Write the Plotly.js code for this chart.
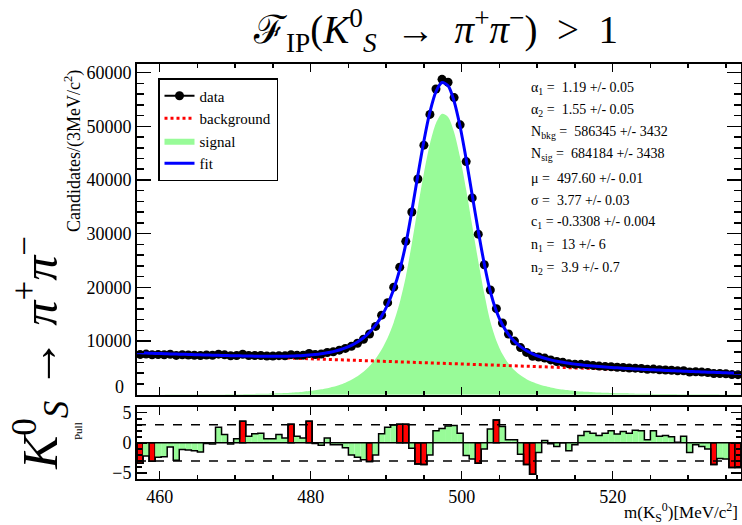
<!DOCTYPE html>
<html>
<head>
<meta charset="utf-8">
<script src="https://cdn.plot.ly/plotly-3.0.1.min.js"></script>
<style>html,body{margin:0;padding:0;background:#fff;}#plot{width:742px;height:525px;}</style>
</head>
<body>
<div id="plot"></div>
<script>
// bin centres (0.8 MeV bins from 457 to 537)
const mass = [457.4, 458.2, 459.0, 459.8, 460.6, 461.4, 462.2, 463.0, 463.8, 464.6,
  465.4, 466.2, 467.0, 467.8, 468.6, 469.4, 470.2, 471.0, 471.8, 472.6,
  473.4, 474.2, 475.0, 475.8, 476.6, 477.4, 478.2, 479.0, 479.8, 480.6,
  481.4, 482.2, 483.0, 483.8, 484.6, 485.4, 486.2, 487.0, 487.8, 488.6,
  489.4, 490.2, 491.0, 491.8, 492.6, 493.4, 494.2, 495.0, 495.8, 496.6,
  497.4, 498.2, 499.0, 499.8, 500.6, 501.4, 502.2, 503.0, 503.8, 504.6,
  505.4, 506.2, 507.0, 507.8, 508.6, 509.4, 510.2, 511.0, 511.8, 512.6,
  513.4, 514.2, 515.0, 515.8, 516.6, 517.4, 518.2, 519.0, 519.8, 520.6,
  521.4, 522.2, 523.0, 523.8, 524.6, 525.4, 526.2, 527.0, 527.8, 528.6,
  529.4, 530.2, 531.0, 531.8, 532.6, 533.4, 534.2, 535.0, 535.8, 536.6];

const dataCounts = [7491, 7559, 7448, 7469, 7440, 7543, 7316, 7438, 7393, 7350,
  7298, 7385, 7344, 7553, 7420, 7254, 7306, 7528, 7292, 7308,
  7302, 7216, 7213, 7277, 7240, 7462, 7333, 7363, 7681, 7468,
  7581, 7867, 7999, 8296, 8629, 9003, 9576, 10326, 11301, 12718,
  14817, 17139, 20037, 23751, 28566, 34037, 40173, 46477, 52210, 56934,
  58739, 58207, 55345, 50270, 43419, 36652, 29902, 24198, 19504, 16032,
  13348, 11300, 9982, 8769, 7874, 7165, 7024, 6822, 6475, 6190,
  6028, 5752, 5672, 5651, 5583, 5454, 5329, 5269, 5216, 5103,
  5063, 4976, 4948, 4881, 4721, 4769, 4655, 4611, 4547, 4439,
  4457, 4233, 4272, 4207, 4138, 3927, 3949, 3901, 3770, 3729];

const fitCounts = [7791, 7753, 7716, 7679, 7641, 7604, 7568, 7533, 7497, 7462,
  7427, 7394, 7361, 7330, 7300, 7271, 7246, 7222, 7199, 7181,
  7166, 7157, 7154, 7159, 7172, 7199, 7239, 7295, 7372, 7477,
  7616, 7796, 8026, 8323, 8704, 9195, 9814, 10614, 11636, 12946,
  14635, 16802, 19624, 23278, 28047, 34203, 40881, 47260, 52669, 56459,
  58160, 57535, 54667, 49913, 43859, 37173, 30496, 24354, 19185, 15558,
  13040, 11247, 9932, 8949, 8200, 7619, 7159, 6789, 6487, 6237,
  6028, 5851, 5695, 5561, 5443, 5337, 5242, 5154, 5074, 5000,
  4930, 4864, 4802, 4743, 4687, 4633, 4581, 4530, 4480, 4432,
  4384, 4338, 4292, 4246, 4203, 4159, 4116, 4073, 4030, 3988];

const signalCounts = [8, 9, 10, 12, 13, 15, 18, 21, 24, 28,
  32, 37, 43, 51, 60, 70, 83, 98, 114, 135,
  159, 188, 224, 268, 320, 386, 464, 559, 675, 819,
  996, 1215, 1484, 1820, 2240, 2769, 3427, 4266, 5327, 6676,
  8403, 10609, 13470, 17163, 21971, 28165, 34882, 41300, 46748, 50577,
  52316, 51730, 48901, 44186, 38171, 31523, 24885, 18782, 13652, 10064,
  7584, 5830, 4554, 3610, 2900, 2357, 1936, 1605, 1342, 1131,
  960, 822, 705, 610, 530, 463, 407, 358, 317, 281,
  250, 223, 200, 180, 162, 147, 134, 122, 111, 101,
  92, 85, 78, 71, 66, 61, 57, 53, 49, 45];

// curve end points at the range edges
const edgeMass = [457, 537];
const fitEdge = [7807, 3970];
const signalEdge = [7, 44];

// linear background
const bkgMass = [457, 537];
const bkgCounts = [7802, 3924];

const pulls = [-3.4, -2.2, -3.05, -2.4, -2.3, -0.7, -2.9, -1.1, -1.2, -1.3,
  -1.5, -0.1, -0.2, 2.6, 1.4, -0.2, 0.7, 3.6, 1.1, 1.5,
  1.6, 0.7, 0.7, 1.4, 0.8, 3.1, 1.1, 0.8, 3.6, -0.1,
  -0.4, 0.8, -0.3, -0.3, -0.8, -2.0, -2.4, -2.8, -3.1, -2.0,
  1.5, 2.6, 2.95, 3.1, 3.1, -0.9, -3.5, -3.6, -2.0, 2.0,
  2.4, 2.8, 2.9, 1.6, -2.1, -2.7, -3.4, -1.0, 2.3, 3.8,
  2.7, 0.5, 0.5, -1.9, -3.6, -5.2, -1.6, 0.4, -0.15, -0.6,
  0.0, -1.3, -0.3, 1.2, 1.9, 1.6, 1.2, 1.6, 2.0, 1.45,
  1.9, 1.6, 2.1, 2.0, 0.5, 2.0, 1.1, 1.2, 1.0, 0.1,
  1.1, -1.6, -0.3, -0.6, -1.0, -3.6, -2.6, -2.7, -4.1, -4.1];

const paramLabels = [
  'α<sub>1</sub> =  1.19 +/- 0.05',
  'α<sub>2</sub> =  1.55 +/- 0.05',
  'N<sub>bkg</sub> =  586345 +/- 3432',
  'N<sub>sig</sub> =  684184 +/- 3438',
  'μ =  497.60 +/- 0.01',
  'σ =  3.77 +/- 0.03',
  'c<sub>1</sub> = -0.3308 +/- 0.004',
  'n<sub>1</sub> =  13 +/- 6',
  'n<sub>2</sub> =  3.9 +/- 0.7'];

const xTicks = [460, 480, 500, 520];
const yTicks = [0, 10000, 20000, 30000, 40000, 50000, 60000];
const yTickText = ['', '10000', '20000', '30000', '40000', '50000', '60000'];

// ---------- build ----------
const W = 742, H = 525;
const M = {l: 137, r: 1, t: 64, b: 46};
const PW = W - M.l - M.r, PH = H - M.t - M.b;
const PX = x => (x - M.l) / PW;
const PY = y => (H - M.b - y) / PH;

const GREEN = '#98fb98';
const SERIF = 'Liberation Serif, Times New Roman, serif';
const BW = 0.8;

const curveX = [edgeMass[0]].concat(mass, [edgeMass[1]]);
const fitY = [fitEdge[0]].concat(fitCounts, [fitEdge[1]]);
const sigY = [signalEdge[0]].concat(signalCounts, [signalEdge[1]]);

const stepX = [mass[0] - BW / 2].concat(mass.map(m => m - BW / 2), [mass[mass.length - 1] + BW / 2, mass[mass.length - 1] + BW / 2]);
const stepY = [0].concat(pulls, [pulls[pulls.length - 1], 0]);

const isBad = p => Math.abs(p) > 3;

const traces = [
  {x: curveX, y: sigY, type: 'scatter', mode: 'lines', name: 'signal',
   line: {width: 0, color: GREEN, shape: 'spline', smoothing: 0.8}, fill: 'tozeroy', fillcolor: GREEN,
   xaxis: 'x', yaxis: 'y', legendrank: 3},
  {x: bkgMass, y: bkgCounts, type: 'scatter', mode: 'lines', name: 'background',
   line: {color: '#ff0000', width: 3, dash: 'dot'}, xaxis: 'x', yaxis: 'y', legendrank: 2},
  {x: mass, y: dataCounts, type: 'scatter', mode: 'markers', name: 'data', showlegend: false,
   marker: {color: 'black', size: 9}, xaxis: 'x', yaxis: 'y'},
  // legend entry for data (line + marker, as in the reference legend)
  {x: [null], y: [null], type: 'scatter', mode: 'lines+markers', name: 'data',
   line: {color: 'black', width: 2}, marker: {color: 'black', size: 9}, xaxis: 'x', yaxis: 'y', legendrank: 1},
  {x: curveX, y: fitY, type: 'scatter', mode: 'lines', name: 'fit',
   line: {color: '#0000ff', width: 3, shape: 'spline', smoothing: 0.8}, xaxis: 'x', yaxis: 'y', legendrank: 4},
  {x: mass, y: pulls, type: 'bar', width: BW, showlegend: false,
   marker: {color: pulls.map(p => isBad(p) ? '#ff0000' : GREEN),
            line: {color: 'black', width: pulls.map(p => isBad(p) ? 1.5 : 0)}},
   xaxis: 'x2', yaxis: 'y2'},
  {x: stepX, y: stepY, type: 'scatter', mode: 'lines', showlegend: false,
   line: {color: 'black', width: 1.5, shape: 'hv'}, xaxis: 'x2', yaxis: 'y2'}
];

const axBase = {showline: true, linecolor: 'black', linewidth: 2, mirror: 'allticks',
  ticks: 'inside', tickcolor: 'black', tickwidth: 1.5, showgrid: false, zeroline: false,
  tickfont: {family: SERIF, size: 18, color: 'black'}};

const mainBottom = PY(394.7), pullTop = PY(406.7);

const annotations = [];
annotations.push({xref: 'paper', yref: 'paper', x: PX(435), y: PY(31), xanchor: 'center', yanchor: 'middle', showarrow: false,
  text: 'ℱ<sub>IP</sub>(<i>K</i><sup>0</sup><sub><i>S</i></sub> &nbsp;→&nbsp; <i>π</i><sup>+</sup><i>π</i><sup>−</sup>) &nbsp;&gt;&nbsp; 1',
  font: {family: SERIF, size: 39, color: 'black'}});
annotations.push({xref: 'paper', yref: 'paper', x: PX(40), y: PY(353), xanchor: 'center', yanchor: 'middle', showarrow: false,
  textangle: -90,
  text: '<i>K</i><sup>0</sup><sub><i>S</i></sub> → <i>π</i><sup>+</sup><i>π</i><sup>−</sup>',
  font: {family: SERIF, size: 50, color: 'black'}});
annotations.push({xref: 'paper', yref: 'paper', x: PX(73), y: PY(151), xanchor: 'center', yanchor: 'middle', showarrow: false,
  textangle: -90, text: 'Candidates/(3MeV/c<sup>2</sup>)', font: {family: SERIF, size: 18, color: 'black'}});
annotations.push({xref: 'paper', yref: 'paper', x: PX(126), y: PY(387), xanchor: 'right', yanchor: 'middle', showarrow: false,
  text: '0', font: {family: SERIF, size: 18, color: 'black'}});
annotations.push({xref: 'paper', yref: 'paper', x: PX(78), y: PY(431), xanchor: 'center', yanchor: 'middle', showarrow: false,
  textangle: -90, text: 'Pull', font: {family: SERIF, size: 11, color: 'black'}});
annotations.push({xref: 'paper', yref: 'paper', x: PX(740), y: PY(512), xanchor: 'right', yanchor: 'middle', showarrow: false,
  text: 'm(K<sub>S</sub><sup>0</sup>)[MeV/c<sup>2</sup>]', font: {family: SERIF, size: 17, color: 'black'}});
const paramY = [88, 110, 132, 154, 178, 200, 222, 245, 268];
paramLabels.forEach((t, i) => annotations.push({xref: 'paper', yref: 'paper', x: PX(529), y: PY(paramY[i]),
  xanchor: 'left', yanchor: 'middle', showarrow: false, text: t, font: {family: SERIF, size: 14, color: 'black'}}));

const layout = {
  width: W, height: H, margin: M, paper_bgcolor: 'white', plot_bgcolor: 'white',
  showlegend: true, barmode: 'overlay', bargap: 0,
  legend: {x: PX(158), y: PY(78), xanchor: 'left', yanchor: 'top', bgcolor: 'white',
    bordercolor: 'black', borderwidth: 1.5, font: {family: SERIF, size: 15, color: 'black'},
    traceorder: 'normal', itemwidth: 30},
  xaxis: Object.assign({}, axBase, {domain: [0, 1], anchor: 'y', range: [457, 537], showticklabels: false,
    tick0: 460, dtick: 20, ticklen: 8, minor: {dtick: 5, tick0: 460, ticklen: 4, ticks: 'inside', tickcolor: 'black', tickwidth: 1.5}}),
  yaxis: Object.assign({}, axBase, {domain: [mainBottom, 1], anchor: 'x', range: [0, 61600],
    tickmode: 'array', tickvals: yTicks, ticktext: yTickText, ticklen: 14,
    minor: {dtick: 2000, tick0: 0, ticklen: 7, ticks: 'inside', tickcolor: 'black', tickwidth: 1.5}}),
  xaxis2: Object.assign({}, axBase, {domain: [0, 1], anchor: 'y2', range: [457, 537],
    tickmode: 'array', tickvals: xTicks, ticklen: 8, tickfont: {family: SERIF, size: 18, color: 'black'},
    minor: {dtick: 5, tick0: 460, ticklen: 4, ticks: 'inside', tickcolor: 'black', tickwidth: 1.5}}),
  yaxis2: Object.assign({}, axBase, {domain: [0, pullTop], anchor: 'x2', range: [-6, 6],
    tick0: -5, dtick: 5, ticklen: 10, minor: {dtick: 1, tick0: 0, ticklen: 5, ticks: 'inside', tickcolor: 'black', tickwidth: 1.5}}),
  shapes: [
    {type: 'line', xref: 'x2', yref: 'y2', x0: 457, x1: 537, y0: 3, y1: 3, line: {color: 'black', width: 1.5, dash: 'dash'}},
    {type: 'line', xref: 'x2', yref: 'y2', x0: 457, x1: 537, y0: -3, y1: -3, line: {color: 'black', width: 1.5, dash: 'dash'}},
    {type: 'line', xref: 'x2', yref: 'y2', x0: 457, x1: 537, y0: 0, y1: 0, line: {color: 'black', width: 1.5}}
  ],
  annotations: annotations
};

Plotly.newPlot('plot', traces, layout, {displayModeBar: false, staticPlot: true});
</script>
</body>
</html>
